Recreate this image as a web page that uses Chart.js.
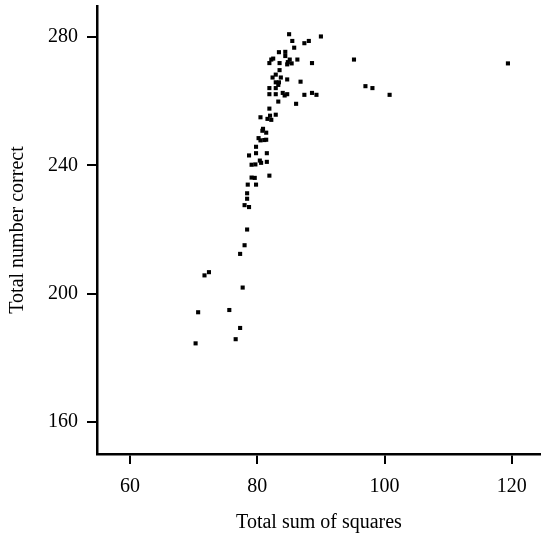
<!DOCTYPE html>
<html>
<head>
<meta charset="utf-8">
<script src="https://cdn.jsdelivr.net/npm/chart.js@4/dist/chart.umd.min.js"></script>
<style>
  html, body { margin: 0; padding: 0; background: #fff; }
  #wrap { width: 541px; height: 533px; }
</style>
</head>
<body>
<div id="wrap"><canvas id="chart"></canvas></div>
<script>
// Total sum of squares (x) vs total number correct (y), one entry per subject
const sumOfSquares = [
  85.0, 85.5, 90.0, 87.4, 88.1, 85.8, 83.4, 84.4, 84.4, 82.2,
  82.5, 83.5, 84.8, 85.1, 86.3, 88.6, 95.2, 84.7, 81.9, 119.4,
  85.4, 83.5, 82.9, 82.9, 83.4, 84.7, 86.8, 83.3, 81.9, 82.9,
  81.9, 82.9, 84.0, 84.7, 87.4, 88.6, 89.3, 83.3, 86.1, 81.9,
  80.5, 81.6, 82.0, 82.9, 82.2, 80.9, 97.0, 98.1, 100.8, 82.4,
  83.7, 84.3, 80.8, 81.4, 80.5, 81.1, 81.4, 79.8, 78.7, 79.8,
  81.5, 79.1, 79.7, 80.4, 80.6, 81.5, 79.6, 81.9, 78.5, 79.8,
  78.4, 78.4, 79.1, 80.2, 78.0, 78.7, 78.4, 78.0, 77.3, 72.4,
  71.7, 77.7, 70.7, 75.6, 77.3, 76.6, 70.3
];
const numberCorrect = [
  280.9, 278.8, 280.2, 278.1, 278.8, 276.7, 275.3, 275.4, 274.1, 273.0,
  273.3, 271.9, 272.2, 273.0, 273.0, 271.9, 273.0, 271.5, 271.9, 271.8,
  271.8, 269.7, 268.3, 265.9, 265.9, 266.8, 266.1, 265.1, 264.1, 264.1,
  262.2, 262.2, 262.6, 262.2, 262.0, 262.6, 262.0, 259.9, 259.2, 257.7,
  255.0, 254.5, 255.5, 255.8, 254.2, 251.4, 264.7, 264.1, 262.0, 267.4,
  267.4, 261.8, 250.8, 250.2, 247.8, 247.9, 248.0, 245.8, 243.1, 243.8,
  243.8, 240.2, 240.3, 241.5, 240.8, 241.1, 236.1, 236.8, 234.0, 234.0,
  231.3, 229.6, 236.2, 248.5, 227.6, 227.0, 220.0, 215.1, 212.4, 206.7,
  205.7, 201.9, 194.2, 194.9, 189.3, 185.8, 184.5
];
const xTicks = [60, 80, 100, 120];
const yTicks = [160, 200, 240, 280];

const FONT = 'Liberation Serif, Times New Roman, serif';

const points = sumOfSquares.map((x, i) => ({ x, y: numberCorrect[i] }));

// fixed box sizes, and no extra room reserved for half tick labels
function fixBox(size) {
  return s => {
    if (s.isHorizontal()) s.height = size; else s.width = size;
    s.paddingTop = s.paddingBottom = s.paddingLeft = s.paddingRight = 0;
  };
}

new Chart(document.getElementById('chart'), {
  type: 'scatter',
  data: {
    datasets: [{
      data: points,
      pointStyle: 'rect',
      pointRadius: 2.9,
      pointHoverRadius: 2.9,
      pointBackgroundColor: '#000',
      pointBorderWidth: 0,
    }],
  },
  options: {
    responsive: true,
    maintainAspectRatio: false,
    animation: false,
    layout: { autoPadding: false, padding: { top: 6, right: 0, bottom: 0, left: 0 } },
    plugins: {
      legend: { display: false },
      tooltip: { enabled: false },
    },
    scales: {
      x: {
        type: 'linear',
        min: 54.8,
        max: 124.6,
        afterFit: fixBox(79),
        afterBuildTicks: s => { s.ticks = xTicks.map(v => ({ value: v })); },
        border: { display: true, color: '#000', width: 2.5 },
        grid: { drawOnChartArea: false, drawTicks: true, tickLength: 10, color: '#000', lineWidth: 2 },
        ticks: { color: '#000', padding: 11, font: { family: FONT, size: 20 } },
        title: {
          display: true,
          text: 'Total sum of squares',
          color: '#000',
          padding: 0,
          font: { family: FONT, size: 20, lineHeight: 1 },
        },
      },
      y: {
        type: 'linear',
        min: 150,
        max: 289.7,
        afterFit: fixBox(97),
        afterBuildTicks: s => { s.ticks = yTicks.map(v => ({ value: v })); },
        border: { display: true, color: '#000', width: 2.5 },
        grid: { drawOnChartArea: false, drawTicks: true, tickLength: 10, color: '#000', lineWidth: 2 },
        ticks: { color: '#000', padding: 9, font: { family: FONT, size: 20 } },
        title: {
          display: true,
          text: 'Total number correct',
          color: '#000',
          padding: { top: 8, bottom: 0 },
          font: { family: FONT, size: 20, lineHeight: 1 },
        },
      },
    },
  },
});
</script>
</body>
</html>
